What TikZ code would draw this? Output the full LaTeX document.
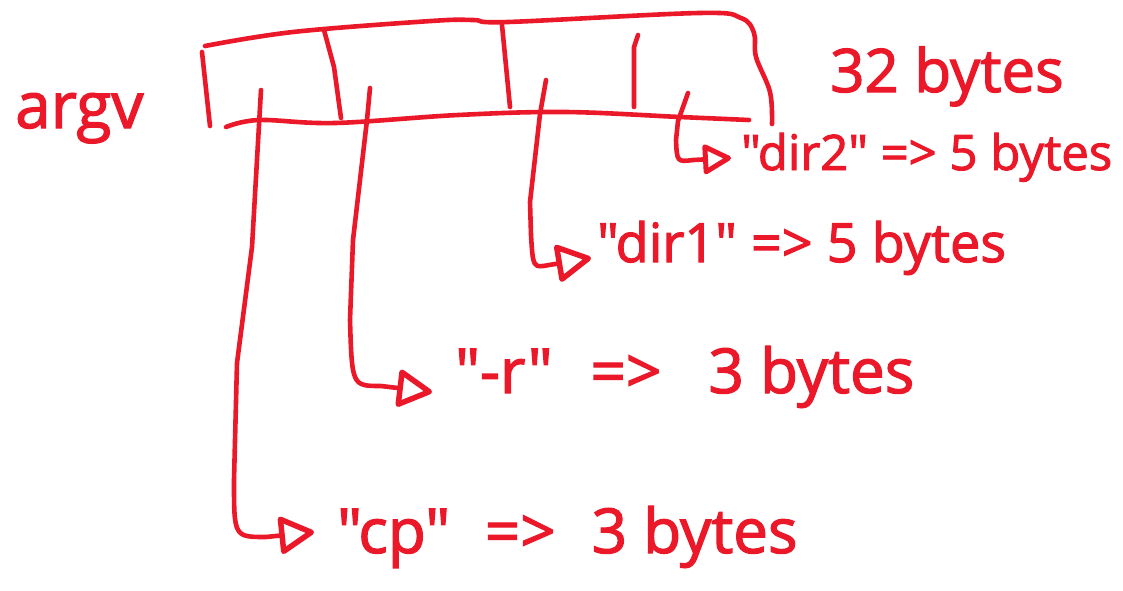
\documentclass[tikz,border=0pt]{standalone}
\usepackage{fontspec}
\newfontfamily\hand{Open Sans}[FakeBold=2]
\usetikzlibrary{arrows.meta}
\definecolor{ink}{RGB}{234,24,40}
\begin{document}
\begin{tikzpicture}[x=1pt,y=-1pt,
  stroke/.style={draw=ink, line width=4.6pt, line cap=round, line join=round},
  ptr/.style={stroke, -{Triangle[open, round, length=38pt, width=40pt, line width=5.5pt]}},
  smallptr/.style={stroke, -{Triangle[open, round, length=31pt, width=32pt, line width=5pt]}},
  lbl/.style={text=ink, inner sep=0pt, anchor=base west, font=\hand\fontsize{#1}{#1}\selectfont},
]
\useasboundingbox (0,0) rectangle (1123,590);

% the argv array: outline and cell dividers
\draw[stroke] plot[smooth, tension=0.6] coordinates {(205,46) (293,32) (431,21) (473,20) (508,22) (699,13) (741,18) (754,33) (756,57) (770,92) (772,124)};
\draw[stroke] (202,52) -- (210,126);
\draw[stroke] plot[smooth, tension=0.6] coordinates {(226,127) (259,120) (335,123) (458,115) (565,112) (680,117) (749,120)};
\draw[stroke] (324,30) -- (334,67) -- (341,118);
\draw[stroke] (502,25) -- (510,107);
\draw[stroke] (638,35) -- (634,47) -- (634,107);

% pointer origins inside the cells
\coordinate (c1) at (261,90);
\coordinate (c2) at (370,88);
\coordinate (c3) at (546,80);
\coordinate (c4) at (688,93);

% labels
\node[lbl=64] (argv) at (15,128) {argv};
\node[lbl=60] (total) at (830,92) {32 bytes};
\node[lbl=49] (s4) at (741,170) {"dir2" => 5 bytes};
\node[lbl=54] (s3) at (597,262) {"dir1" => 5 bytes};
\node[lbl=62] (s2) at (455,393) {"-r"\hspace{0.35em} => \hspace{0.5em}3 bytes};
\node[lbl=62] (s1) at (337,553) {"cp"\hspace{0.3em} => \hspace{0.32em}3 bytes};

% arrow tips in front of each string
\coordinate (t1) at (314,532);
\coordinate (t2) at (432,392);
\coordinate (t3) at (591,258);
\coordinate (t4) at (731,158);

% pointers from the cells to the strings
\draw[ptr] (c1) -- (252,247) -- (237,363) -- (234,480) .. controls (234,537) .. (266,537) -- (t1);
\draw[ptr] (c2) -- (367,120) -- (353,240) -- (350,320) .. controls (352,386) .. (381,386) -- (t2);
\draw[ptr] (c3) -- (540,114) -- (530,202) -- (531,235) .. controls (533,268) .. (549,265) -- (t3);
\draw[smallptr] (c4) -- (678,121) -- (676,140) .. controls (677,162) .. (693,160) -- (t4);
\end{tikzpicture}
\end{document}
